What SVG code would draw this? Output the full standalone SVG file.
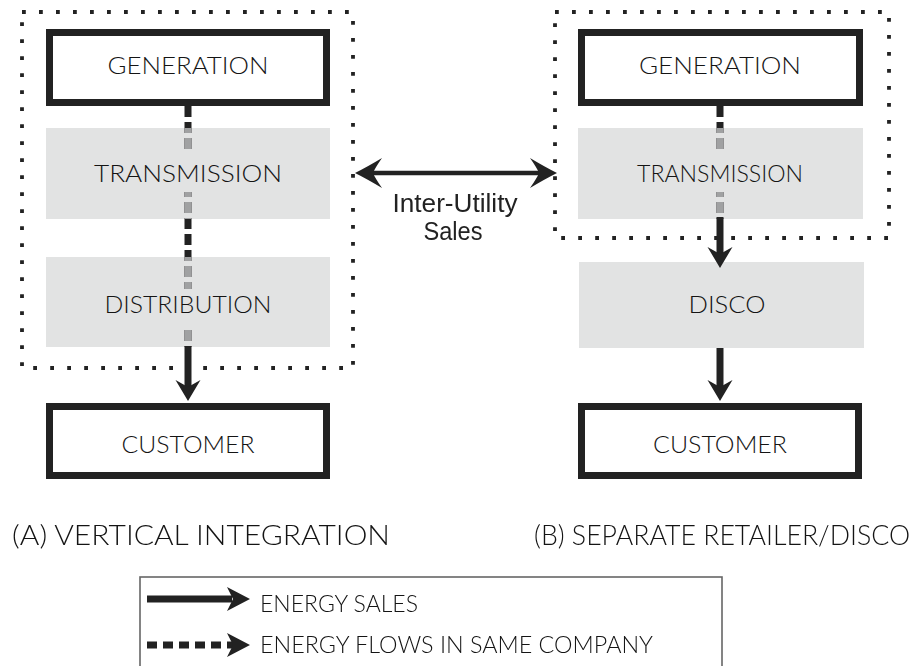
<svg xmlns="http://www.w3.org/2000/svg" width="920" height="666" viewBox="0 0 920 666">
<style>
.lbl{font-family:"Lato","DejaVu Sans",sans-serif;font-weight:300;font-size:24px;fill:#141414;text-anchor:middle;}
.cap{font-family:"Lato","DejaVu Sans",sans-serif;font-weight:300;font-size:27px;fill:#141414;}
.leg{font-family:"Lato","DejaVu Sans",sans-serif;font-weight:300;font-size:23px;fill:#141414;}
.iu{font-family:"Liberation Sans",Arial,sans-serif;font-size:26px;fill:#222;text-anchor:middle;}
.box{fill:#fff;stroke:#222;stroke-width:7;}
.grey{fill:#e2e3e3;}
.dot{fill:none;stroke:#222;stroke-width:3.8;stroke-dasharray:3.8 13.2;}
.sol{stroke:#222;stroke-width:7;fill:none;}
.dsh{stroke:#222;stroke-width:7;fill:none;stroke-dasharray:11 5;}
.dshg{stroke:#a0a1a2;stroke-width:7;fill:none;stroke-dasharray:11 5;}
.head{fill:#222;}
</style>
<defs>
<clipPath id="gclip">
<rect x="46" y="128" width="284" height="91"/>
<rect x="46" y="257" width="284" height="90"/>
<rect x="578" y="128" width="285" height="91"/>
</clipPath>
<mask id="txtgap">
<rect x="0" y="0" width="920" height="666" fill="#fff"/>
<rect x="170" y="154" width="36" height="38" fill="#000"/>
<rect x="170" y="289" width="36" height="37" fill="#000"/>
<rect x="702" y="154" width="36" height="38" fill="#000"/>
</mask>
</defs>
<rect width="920" height="666" fill="#fff"/>

<g id="group-a">
<rect class="dot" x="22" y="12" width="331" height="356"/>
</g>
<g id="group-b">
<rect class="dot" x="555" y="12" width="334" height="226"/>
</g>

<g id="gen-a"><rect class="box" x="49.5" y="32.5" width="277" height="70"/><text class="lbl" x="188" y="74" textLength="161" lengthAdjust="spacingAndGlyphs">GENERATION</text></g>
<g id="trans-a"><rect class="grey" x="46" y="128" width="284" height="91"/><text class="lbl" x="188" y="182" textLength="188" lengthAdjust="spacingAndGlyphs">TRANSMISSION</text></g>
<g id="dist-a"><rect class="grey" x="46" y="257" width="284" height="90"/><text class="lbl" x="188" y="313" textLength="167" lengthAdjust="spacingAndGlyphs">DISTRIBUTION</text></g>
<g id="cust-a"><rect class="box" x="49.5" y="406.5" width="277" height="69"/><text class="lbl" x="188" y="453" textLength="133" lengthAdjust="spacingAndGlyphs">CUSTOMER</text></g>

<g id="gen-b"><rect class="box" x="581.5" y="32.5" width="278" height="70"/><text class="lbl" x="720" y="74" textLength="162" lengthAdjust="spacingAndGlyphs">GENERATION</text></g>
<g id="trans-b"><rect class="grey" x="578" y="128" width="285" height="91"/><text class="lbl" x="720" y="182" textLength="166" lengthAdjust="spacingAndGlyphs">TRANSMISSION</text></g>
<g id="disco-b"><rect class="grey" x="579" y="262" width="285" height="86"/><text class="lbl" x="727" y="313" textLength="77" lengthAdjust="spacingAndGlyphs">DISCO</text></g>
<g id="cust-b"><rect class="box" x="581.5" y="406.5" width="277" height="69"/><text class="lbl" x="720" y="453" textLength="134" lengthAdjust="spacingAndGlyphs">CUSTOMER</text></g>

<g id="connectors">
<g mask="url(#txtgap)">
<path class="dsh" d="M188,106 V347"/>
<path class="dshg" d="M188,106 V347" clip-path="url(#gclip)"/>
<path class="dsh" d="M720,106 V219"/>
<path class="dshg" d="M720,106 V219" clip-path="url(#gclip)"/>
</g>
<path class="sol" d="M188,346 V388"/>
<path class="head" d="M188,401 L175.5,380 L188,387 L200.5,380 Z"/>
<path class="sol" d="M720,217 V256"/>
<path class="head" d="M720,268 L707.5,247 L720,254 L732.5,247 Z"/>
<path class="sol" d="M720,348 V388"/>
<path class="head" d="M720,401 L707.5,380 L720,387 L732.5,380 Z"/>
<path d="M370,173 H542" stroke="#222" stroke-width="4.5" fill="none"/>
<path class="head" d="M355,173 Q367,167 382,158 Q375,168 373,173 Q375,178 382,188 Q367,179 355,173 Z"/>
<path class="head" d="M557,173 Q545,167 530,158 Q537,168 539,173 Q537,178 530,188 Q545,179 557,173 Z"/>
</g>

<g id="inter-utility-label">
<text class="iu" x="455" y="212" textLength="125" lengthAdjust="spacingAndGlyphs">Inter-Utility</text>
<text class="iu" x="453" y="240" textLength="59" lengthAdjust="spacingAndGlyphs">Sales</text>
</g>

<g id="captions">
<text class="cap" x="12" y="545" textLength="378" lengthAdjust="spacingAndGlyphs">(A) VERTICAL INTEGRATION</text>
<text class="cap" x="534" y="545" textLength="376" lengthAdjust="spacingAndGlyphs">(B) SEPARATE RETAILER/DISCO</text>
</g>

<g id="legend">
<rect x="140" y="577" width="582" height="100" fill="none" stroke="#666" stroke-width="1.6"/>
<path d="M147,599 H232" stroke="#222" stroke-width="7" fill="none"/>
<path class="head" d="M250,599 L227,587 L233,599 L227,611 Z"/>
<path d="M147,645 H233" stroke="#222" stroke-width="7" fill="none" stroke-dasharray="10 6"/>
<path class="head" d="M250,645 L227,633 L233,645 L227,657 Z"/>
<text class="leg" x="260" y="612" textLength="158" lengthAdjust="spacingAndGlyphs">ENERGY SALES</text>
<text class="leg" x="260" y="653" textLength="393" lengthAdjust="spacingAndGlyphs">ENERGY FLOWS IN SAME COMPANY</text>
</g>
</svg>
